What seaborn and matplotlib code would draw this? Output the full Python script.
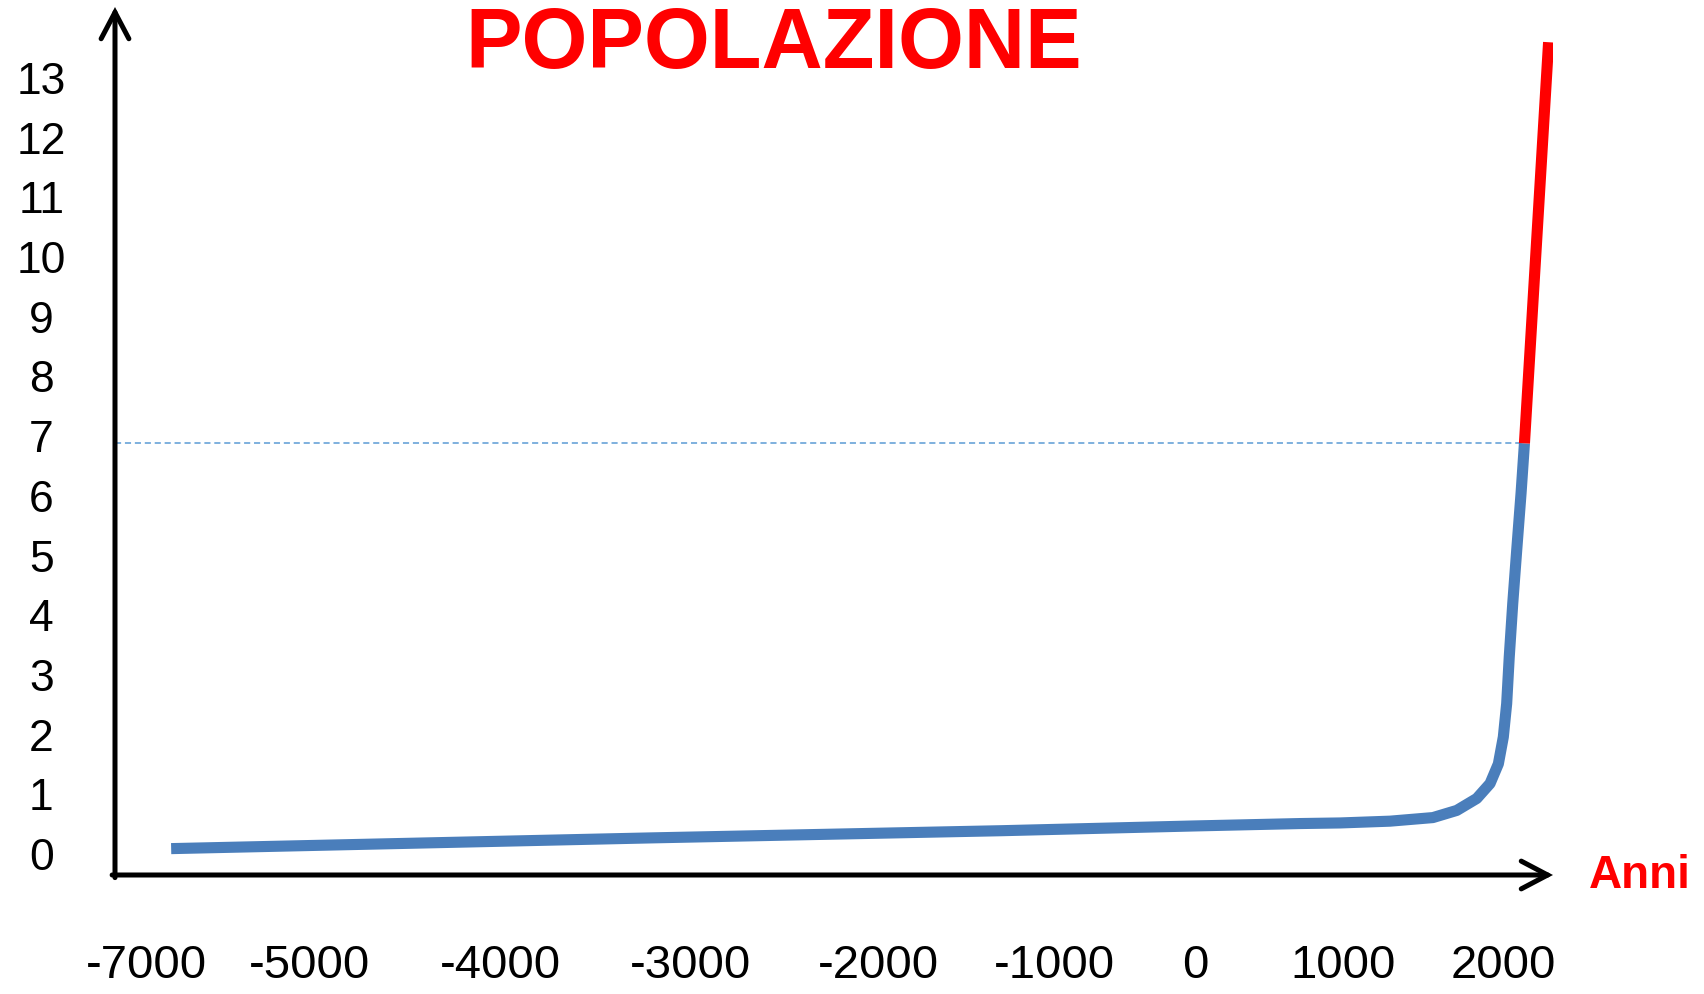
import numpy as np
import seaborn as sns
import matplotlib.pyplot as plt

# World population (billions) as drawn on the slide
blue_years = [-6700, -3200, -1300, 0, 710, 980, 1294, 1562, 1711, 1836, 1919, 1971,
              2002, 2023, 2039, 2061, 2086, 2113, 2134]
blue_vals = [0.09, 0.27, 0.39, 0.47, 0.51, 0.52, 0.55, 0.61, 0.73, 0.93, 1.18, 1.51,
             1.96, 2.52, 3.3, 4.2, 5.1, 6.05, 6.88]
red_years = [2134, 2285]
red_vals = [6.88, 13.6]

x_ticks = [-7000, -5000, -4000, -3000, -2000, -1000, 0, 1000, 2000]
y_ticks = list(range(0, 14))

# horizontal placement of the year labels on the slide (they are not evenly spaced)
anchor_years = [-8000] + x_ticks + [3000]
anchor_px = [65.2, 146.7, 309.7, 500, 690, 878, 1054, 1195, 1343, 1503, 1663]

def fwd(v):
    return np.interp(v, anchor_years, anchor_px)

def inv(p):
    return np.interp(p, anchor_px, anchor_years)

BLUE = '#4a7ebb'
RED = '#ff0000'

sns.set_theme(style='white')
plt.rcParams['font.family'] = ['Liberation Sans', 'DejaVu Sans']

fig = plt.figure(figsize=(17.04, 9.94), dpi=100)
ax = fig.add_axes([115 / 1704, 1 - 875 / 994, (1553 - 115) / 1704, (875 - 7) / 994])
ax.set_xscale('function', functions=(fwd, inv))
ax.set_xlim(inv(115), inv(1553))
ax.set_ylim(-0.352, 14.19)

ax.hlines(red_vals[0], inv(115), red_years[0], color='#5b9bd5', lw=1.1,
          linestyles=(0, (4, 2.5)), zorder=1)
sns.lineplot(x=blue_years, y=blue_vals, sort=False, color=BLUE, linewidth=8,
             solid_capstyle='butt', solid_joinstyle='round', ax=ax, zorder=3)
sns.lineplot(x=red_years, y=red_vals, sort=False, color=RED, linewidth=8,
             solid_capstyle='butt', ax=ax, zorder=3)

for s in ax.spines.values():
    s.set_visible(False)
arrow = dict(arrowstyle='->,head_length=0.95,head_width=0.5', lw=3.6, color='black',
             mutation_scale=20, shrinkA=0, shrinkB=0, capstyle='round', joinstyle='miter')
ax.annotate('', xy=(0, 1), xytext=(0, -0.003), xycoords='axes fraction', arrowprops=arrow)
ax.annotate('', xy=(1, 0), xytext=(-0.002, 0), xycoords='axes fraction', arrowprops=arrow)

ax.set_xticks(x_ticks)
ax.set_xticklabels([str(t) for t in x_ticks], fontsize=34, color='black')
ax.set_yticks(y_ticks)
ax.set_yticklabels([str(t) for t in y_ticks], fontsize=32, color='black')
ax.tick_params(axis='x', length=0, pad=50)
ax.tick_params(axis='y', length=0, pad=53)
for lab in ax.get_yticklabels():
    lab.set_horizontalalignment('center')
ax.set_xlabel('')
ax.set_ylabel('')
ax.grid(False)

fig.text(774 / 1704, 1 - 68 / 994, 'POPOLAZIONE', color=RED, fontsize=61,
         fontweight='bold', ha='center', va='baseline')
fig.text(1589 / 1704, 1 - 888 / 994, 'Anni', color=RED, fontsize=33,
         fontweight='bold', ha='left', va='baseline')

fig.savefig('out.png', dpi=100, facecolor='white')
